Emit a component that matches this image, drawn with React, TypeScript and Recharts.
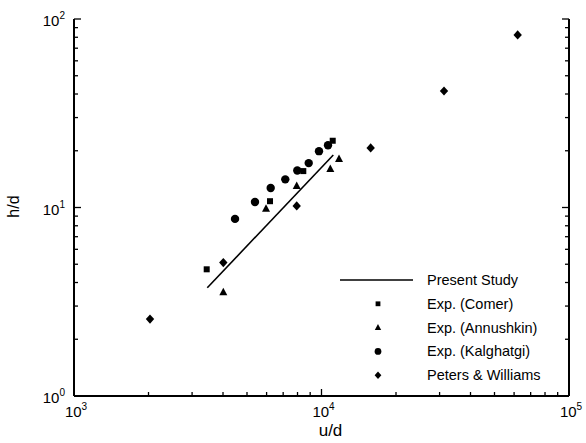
import React from 'react';
import { ScatterChart, Scatter, XAxis, YAxis, Legend } from 'recharts';

const FONT = '"Liberation Sans", Arial, Helvetica, sans-serif';

// ---- data (u/d , h/d) ----
const studyU = [3456, 11160];
const studyH = [3.75, 19.0];

const comerU = [3437, 6194, 8442, 11100];
const comerH = [4.7, 10.8, 15.6, 22.6];

const annushkinU = [4011, 5968, 7940, 10855, 11770];
const annushkinH = [3.55, 9.85, 13.0, 16.0, 18.1];

const kalghatgiU = [4473, 5386, 6233, 7139, 7983, 8878, 9770, 10624];
const kalghatgiH = [8.7, 10.7, 12.7, 14.1, 15.7, 17.2, 19.9, 21.4];

const petersU = [2028, 4011, 7940, 15800, 31260, 62030];
const petersH = [2.56, 5.1, 10.2, 20.7, 41.5, 82.3];

const seriesNames = [
  'Present Study',
  'Exp. (Comer)',
  'Exp. (Annushkin)',
  'Exp. (Kalghatgi)',
  'Peters & Williams',
];
const markerKinds = ['line', 'square', 'triangle', 'circle', 'diamond'];

const xTicks = [
  1000, 2000, 3000, 4000, 5000, 6000, 7000, 8000, 9000,
  10000, 20000, 30000, 40000, 50000, 60000, 70000, 80000, 90000, 100000,
];
const yTicks = [1, 2, 3, 4, 5, 6, 7, 8, 9, 10, 20, 30, 40, 50, 60, 70, 80, 90, 100];

const zip = (u: number[], h: number[]) => u.map((x, i) => ({ x, y: h[i] }));

const studyData = zip(studyU, studyH);
const comerData = zip(comerU, comerH);
const annushkinData = zip(annushkinU, annushkinH);
const kalghatgiData = zip(kalghatgiU, kalghatgiH);
const petersData = zip(petersU, petersH);

const isMajor = (v: number) => {
  const l = Math.log10(v);
  return Math.abs(l - Math.round(l)) < 1e-9;
};

const Pow = ({ x, y, anchor, exp }: any) => (
  <text x={x} y={y} textAnchor={anchor} fontFamily={FONT} fontSize={15} fill="#000">
    10
    <tspan dy={-7} fontSize={10}>
      {exp}
    </tspan>
  </text>
);

const BottomTick = (props: any) => {
  const { x, y, payload } = props;
  const v = payload.value;
  const major = isMajor(v);
  return (
    <g>
      <line x1={x} x2={x} y1={y} y2={y - (major ? 7 : 4)} stroke="#000" strokeWidth={1.3} />
      {major && <Pow x={x + 2} y={y + 21} anchor="middle" exp={Math.round(Math.log10(v))} />}
    </g>
  );
};

const TopTick = (props: any) => {
  const { x, y, payload } = props;
  const major = isMajor(payload.value);
  return <line x1={x} x2={x} y1={y} y2={y + (major ? 7 : 4)} stroke="#000" strokeWidth={1.3} />;
};

const LeftTick = (props: any) => {
  const { x, y, payload } = props;
  const v = payload.value;
  const major = isMajor(v);
  return (
    <g>
      <line x1={x} x2={x + (major ? 7 : 4)} y1={y} y2={y} stroke="#000" strokeWidth={1.3} />
      {major && <Pow x={x - 9} y={y + 7} anchor="end" exp={Math.round(Math.log10(v))} />}
    </g>
  );
};

const RightTick = (props: any) => {
  const { x, y, payload } = props;
  const major = isMajor(payload.value);
  return <line x1={x} x2={x - (major ? 7 : 4)} y1={y} y2={y} stroke="#000" strokeWidth={1.3} />;
};

const Marker = ({ kind, cx, cy, s = 1 }: any) => {
  if (cx == null || cy == null) return <g />;
  switch (kind) {
    case 'square':
      return <rect x={cx - 3 * s} y={cy - 3 * s} width={6 * s} height={6 * s} fill="#000" />;
    case 'triangle':
      return (
        <polygon
          points={`${cx},${cy - 4.5 * s} ${cx - 4 * s},${cy + 3 * s} ${cx + 4 * s},${cy + 3 * s}`}
          fill="#000"
        />
      );
    case 'circle':
      return <circle cx={cx} cy={cy} r={4.2 * s} fill="#000" />;
    case 'diamond':
      return (
        <polygon
          points={`${cx},${cy - 4.6 * s} ${cx + 4.2 * s},${cy} ${cx},${cy + 4.6 * s} ${cx - 4.2 * s},${cy}`}
          fill="#000"
        />
      );
    default:
      return <g />;
  }
};

const shapeFor = (kind: string) => (props: any) => <Marker kind={kind} cx={props.cx} cy={props.cy} />;

const LegendContent = (props: any) => {
  const payload: any[] = props.payload || [];
  const items = seriesNames
    .map((n, i) => ({ entry: payload.find((p) => p.value === n), kind: markerKinds[i] }))
    .filter((it) => it.entry);
  return (
    <svg width={240} height={122} style={{ display: 'block' }}>
      {items.map((it, i) => {
        const cy = 14 + i * 23.8;
        return (
          <g key={it.entry.value}>
            {it.kind === 'line' ? (
              <line x1={5} x2={78} y1={cy} y2={cy} stroke="#000" strokeWidth={1.5} />
            ) : (
              <Marker kind={it.kind} cx={43} cy={cy} s={0.8} />
            )}
            <text x={92} y={cy + 5} fontFamily={FONT} fontSize={14.5} fill="#000">
              {it.entry.value}
            </text>
          </g>
        );
      })}
    </svg>
  );
};

const XLabel = (props: any) => {
  const vb = props.viewBox || {};
  return (
    <text x={vb.x + vb.width / 2 + 9} y={436} textAnchor="middle" fontFamily={FONT} fontSize={17} fill="#000">
      u/d
    </text>
  );
};

const YLabel = (props: any) => {
  const vb = props.viewBox || {};
  const cy = vb.y + vb.height / 2 - 1;
  return (
    <text
      x={13}
      y={cy}
      transform={`rotate(-90, 13, ${cy})`}
      textAnchor="middle"
      dominantBaseline="central"
      fontFamily={FONT}
      fontSize={16}
      fill="#000"
    >
      h/d
    </text>
  );
};

export default function App() {
  return (
    <div style={{ position: 'absolute', left: 0, top: 0, background: '#fff' }}>
      <ScatterChart width={586} height={443} margin={{ top: 19, right: 0, bottom: 0, left: 0 }}>
        <XAxis
          xAxisId="b"
          dataKey="x"
          type="number"
          scale="log"
          domain={[1000, 100000]}
          allowDataOverflow
          ticks={xTicks}
          interval={0}
          orientation="bottom"
          height={47}
          tickSize={0}
          tickMargin={0}
          tickLine={false}
          tick={<BottomTick />}
          axisLine={{ stroke: '#000', strokeWidth: 2 }}
          label={<XLabel />}
        />
        <XAxis
          xAxisId="t"
          type="number"
          scale="log"
          domain={[1000, 100000]}
          allowDataOverflow
          ticks={xTicks}
          interval={0}
          orientation="top"
          height={0}
          tickSize={0}
          tickMargin={0}
          tickLine={false}
          tick={<TopTick />}
          axisLine={{ stroke: '#000', strokeWidth: 2 }}
        />
        <YAxis
          yAxisId="l"
          dataKey="y"
          type="number"
          scale="log"
          domain={[1, 100]}
          allowDataOverflow
          ticks={yTicks}
          interval={0}
          orientation="left"
          width={74}
          tickSize={0}
          tickMargin={0}
          tickLine={false}
          tick={<LeftTick />}
          axisLine={{ stroke: '#000', strokeWidth: 2 }}
          label={<YLabel />}
        />
        <YAxis
          yAxisId="r"
          type="number"
          scale="log"
          domain={[1, 100]}
          allowDataOverflow
          ticks={yTicks}
          interval={0}
          orientation="right"
          width={17}
          tickSize={0}
          tickMargin={0}
          tickLine={false}
          tick={<RightTick />}
          axisLine={{ stroke: '#000', strokeWidth: 2 }}
        />
        <Scatter
          name={seriesNames[0]}
          data={studyData}
          xAxisId="b"
          yAxisId="l"
          line={{ stroke: '#000', strokeWidth: 1.6 }}
          shape={() => <g />}
          legendType="line"
          fill="#000"
          isAnimationActive={false}
        />
        <Scatter name={seriesNames[1]} data={comerData} xAxisId="b" yAxisId="l" shape={shapeFor('square')} fill="#000" isAnimationActive={false} />
        <Scatter name={seriesNames[2]} data={annushkinData} xAxisId="b" yAxisId="l" shape={shapeFor('triangle')} fill="#000" isAnimationActive={false} />
        <Scatter name={seriesNames[3]} data={kalghatgiData} xAxisId="b" yAxisId="l" shape={shapeFor('circle')} fill="#000" isAnimationActive={false} />
        <Scatter name={seriesNames[4]} data={petersData} xAxisId="b" yAxisId="l" shape={shapeFor('diamond')} fill="#000" isAnimationActive={false} />
        <Legend
          layout="vertical"
          verticalAlign="middle"
          align="center"
          content={<LegendContent />}
          wrapperStyle={{ position: 'absolute', left: 335, top: 266, width: 240, height: 122 }}
        />
      </ScatterChart>
    </div>
  );
}
